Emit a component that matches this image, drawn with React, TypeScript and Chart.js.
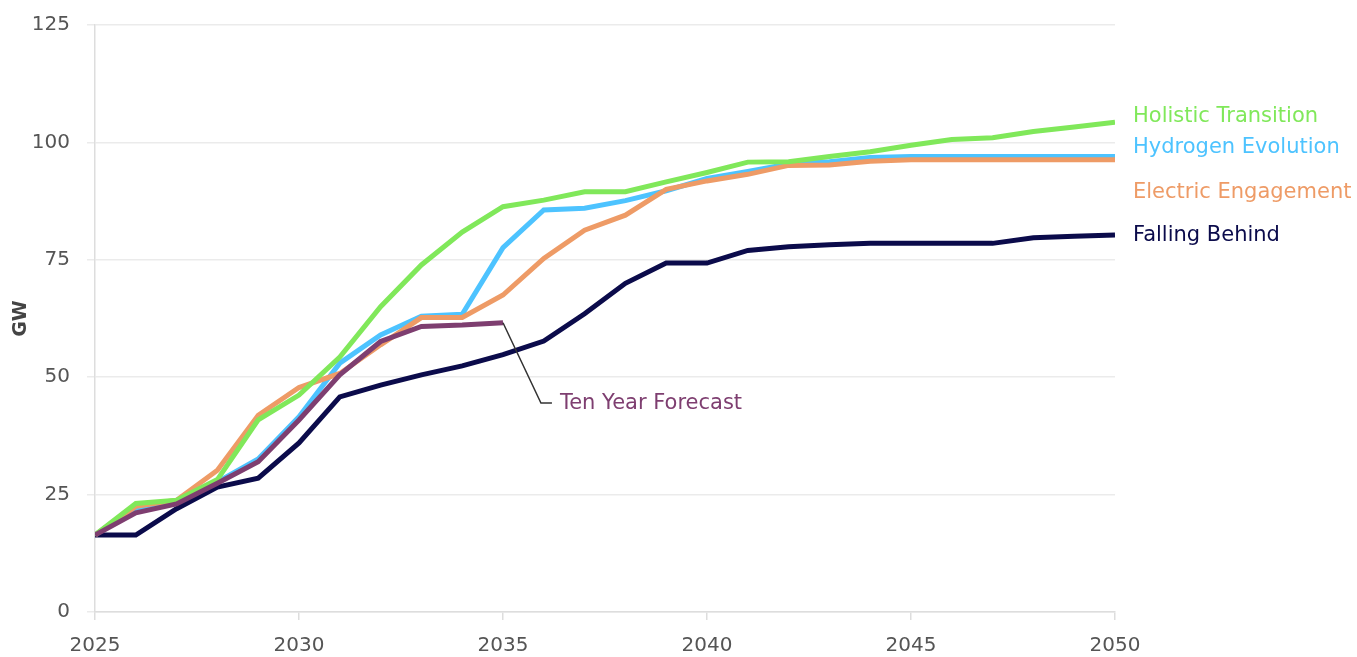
import React, { useEffect, useRef } from "react";
import { Chart, registerables } from "chart.js";

Chart.register(...registerables);

const years = [2025, 2026, 2027, 2028, 2029, 2030, 2031, 2032, 2033, 2034, 2035, 2036, 2037, 2038, 2039, 2040, 2041, 2042, 2043, 2044, 2045, 2046, 2047, 2048, 2049, 2050];

const holisticTransition = [16.4, 23.1, 23.8, 28.2, 40.9, 46.2, 54.3, 65.0, 73.9, 80.9, 86.3, 87.7, 89.5, 89.5, 91.6, 93.6, 95.8, 95.9, 97.0, 98.0, 99.4, 100.6, 101.0, 102.3, 103.3, 104.3];
const hydrogenEvolution = [16.4, 22.1, 23.5, 27.7, 32.6, 41.6, 53.0, 59.0, 63.0, 63.4, 77.6, 85.6, 86.0, 87.6, 89.7, 92.3, 93.8, 95.4, 95.9, 96.8, 97.0, 97.0, 97.0, 97.0, 97.0, 97.0];
const electricEngagement = [16.4, 22.5, 23.8, 30.2, 41.9, 47.8, 50.8, 56.9, 62.7, 62.7, 67.5, 75.3, 81.3, 84.5, 90.0, 91.8, 93.2, 95.1, 95.2, 96.0, 96.3, 96.3, 96.3, 96.3, 96.3, 96.3];
const fallingBehind = [16.4, 16.4, 22.0, 26.6, 28.5, 36.0, 45.8, 48.3, 50.5, 52.4, 54.8, 57.7, 63.5, 70.0, 74.3, 74.3, 77.0, 77.8, 78.2, 78.5, 78.5, 78.5, 78.5, 79.7, 80.0, 80.3];
const tenYearForecast = [16.4, 21.1, 23.0, 27.4, 32.0, 40.9, 50.5, 57.6, 60.8, 61.1, 61.6];

const seriesNames = ["Holistic Transition", "Hydrogen Evolution", "Electric Engagement", "Falling Behind", "Ten Year Forecast"];
const seriesColors = ["#80E85A", "#4DC3FF", "#EE9B66", "#0B0B4B", "#7E3E70"];

const yTicks = [0, 25, 50, 75, 100, 125];

const FONT = "'DejaVu Sans', 'Open Sans', sans-serif";

const toPoints = (vals: number[]) => vals.map((v, i) => ({ x: years[i], y: v }));

const labelPlugin = {
  id: "seriesLabels",
  afterDatasetsDraw(chart: any) {
    const { ctx, scales } = chart;
    const xs = scales.x;
    const ys = scales.y;
    ctx.save();
    ctx.font = `21px ${FONT}`;
    ctx.textAlign = "left";
    ctx.textBaseline = "middle";
    const anchors = [105.6, 98.8, 89.4, 80.1];
    const labelX = xs.getPixelForValue(2050) + 18;
    for (let i = 0; i < 4; i++) {
      ctx.fillStyle = seriesColors[i];
      ctx.fillText(seriesNames[i], labelX, ys.getPixelForValue(anchors[i]));
    }
    const last = tenYearForecast.length - 1;
    const px = xs.getPixelForValue(years[last]);
    const py = ys.getPixelForValue(tenYearForecast[last]);
    const ex = xs.getPixelForValue(2035.93);
    const ey = ys.getPixelForValue(44.5);
    ctx.strokeStyle = "#333333";
    ctx.lineWidth = 1.5;
    ctx.beginPath();
    ctx.moveTo(px, py);
    ctx.lineTo(ex, ey);
    ctx.lineTo(ex + 11, ey);
    ctx.stroke();
    ctx.fillStyle = seriesColors[4];
    ctx.fillText(seriesNames[4], ex + 19, ey + 1);
    ctx.restore();
  },
};

export default function App() {
  const canvasRef = useRef<HTMLCanvasElement | null>(null);

  useEffect(() => {
    if (!canvasRef.current) return;
    const series = [holisticTransition, hydrogenEvolution, electricEngagement, fallingBehind, tenYearForecast];
    const orders = [1, 3, 2, 4, 0];
    const chart = new Chart(canvasRef.current, {
      type: "line",
      data: {
        datasets: series.map((vals, i) => ({
          label: seriesNames[i],
          data: toPoints(vals),
          borderColor: seriesColors[i],
          backgroundColor: seriesColors[i],
          borderWidth: 5,
          pointRadius: 0,
          tension: 0,
          fill: false,
          order: orders[i],
        })),
      },
      options: {
        animation: false,
        responsive: false,
        maintainAspectRatio: false,
        layout: { padding: { top: 25, right: 242, bottom: 0, left: 0 } },
        plugins: {
          legend: { display: false },
          tooltip: { enabled: false },
        },
        scales: {
          x: {
            type: "linear",
            min: 2025,
            max: 2050,
            afterFit: (s: any) => {
              s.height = 45;
              s.paddingLeft = 0;
              s.paddingRight = 0;
            },
            ticks: {
              stepSize: 5,
              color: "#555555",
              padding: 14,
              font: { family: FONT, size: 20 },
              callback: (v: any) => String(v),
              maxRotation: 0,
            },
            grid: {
              drawOnChartArea: false,
              drawTicks: true,
              tickLength: 8,
              color: "#DDDDDD",
              lineWidth: 1.5,
            },
            border: { color: "#DDDDDD", width: 1.5 },
          },
          y: {
            min: 0,
            max: 125,
            afterFit: (s: any) => {
              s.width = 95;
              s.paddingTop = 0;
              s.paddingBottom = 0;
            },
            afterBuildTicks: (s: any) => {
              s.ticks = yTicks.map((v) => ({ value: v }));
            },
            ticks: {
              color: "#555555",
              padding: 17,
              font: { family: FONT, size: 20 },
            },
            grid: {
              color: "#EBEBEB",
              lineWidth: 1.5,
              tickLength: 8,
            },
            border: { color: "#DDDDDD", width: 1.5 },
            title: {
              display: true,
              text: "GW",
              color: "#444444",
              font: { family: FONT, size: 19, weight: "bold" },
              padding: { top: 10, bottom: 0 },
            },
          },
        },
      },
      plugins: [labelPlugin],
    });
    return () => chart.destroy();
  }, []);

  return (
    <div style={{ position: "fixed", left: 0, top: 0, width: 1357, height: 657, background: "#ffffff" }}>
      <canvas ref={canvasRef} width={1357} height={657} style={{ width: 1357, height: 657, display: "block" }} />
    </div>
  );
}
